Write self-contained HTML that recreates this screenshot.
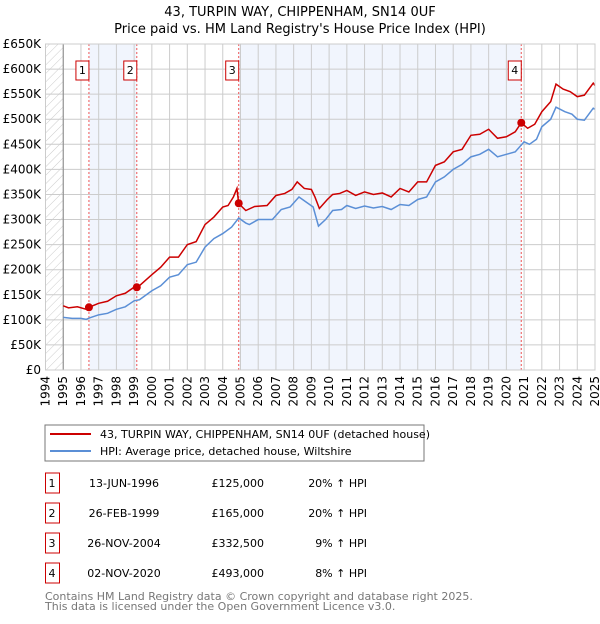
<!DOCTYPE html>
<html><head><meta charset="utf-8"><style>
body{margin:0;background:#fff;font-family:"DejaVu Sans","Liberation Sans",sans-serif;}
svg text{font-family:"DejaVu Sans","Liberation Sans",sans-serif;}
</style></head><body>
<svg id="c" width="600" height="620" xmlns="http://www.w3.org/2000/svg">
<defs><pattern id="hatch" width="6" height="6" patternUnits="userSpaceOnUse" patternTransform="rotate(45)"><line x1="0" y1="0" x2="0" y2="6" stroke="#ccc" stroke-width="1"/></pattern></defs>
<text x="300" y="16" text-anchor="middle" font-size="13">43, TURPIN WAY, CHIPPENHAM, SN14 0UF</text>
<text x="300" y="33" text-anchor="middle" font-size="13">Price paid vs. HM Land Registry's House Price Index (HPI)</text>
<g id="plot"></g>
<rect x="45" y="425" width="379" height="36" fill="#fff" stroke="#777"/>
<line x1="50" y1="434" x2="91" y2="434" stroke="#cc0000" stroke-width="2"/>
<text x="100" y="438" font-size="11">43, TURPIN WAY, CHIPPENHAM, SN14 0UF (detached house)</text>
<line x1="50" y1="451" x2="91" y2="451" stroke="#5b8fd6" stroke-width="2"/>
<text x="100" y="455" font-size="11">HPI: Average price, detached house, Wiltshire</text>
<g id="table" font-size="11"></g>
<text x="45" y="600" font-size="11" fill="#777">Contains HM Land Registry data © Crown copyright and database right 2025.</text>
<text x="45" y="610" font-size="11" fill="#777">This data is licensed under the Open Government Licence v3.0.</text>
</svg>
<script>
const yTicks=[0,50,100,150,200,250,300,350,400,450,500,550,600,650];
const yTickLabels=["£0","£50K","£100K","£150K","£200K","£250K","£300K","£350K","£400K","£450K","£500K","£550K","£600K","£650K"];
const years=[1994,1995,1996,1997,1998,1999,2000,2001,2002,2003,2004,2005,2006,2007,2008,2009,2010,2011,2012,2013,2014,2015,2016,2017,2018,2019,2020,2021,2022,2023,2024,2025];
const hpiT=[1995.0,1995.5,1996.0,1996.3,1996.5,1997.0,1997.5,1998.0,1998.5,1999.0,1999.3,2000.0,2000.5,2001.0,2001.5,2002.0,2002.5,2003.0,2003.5,2004.0,2004.5,2004.9,2005.3,2005.5,2006.0,2006.8,2007.3,2007.8,2008.3,2008.7,2009.1,2009.4,2009.8,2010.2,2010.7,2011.0,2011.5,2012.0,2012.5,2013.0,2013.5,2014.0,2014.5,2015.0,2015.5,2016.0,2016.5,2017.0,2017.5,2018.0,2018.5,2019.0,2019.5,2020.0,2020.5,2021.0,2021.3,2021.7,2022.0,2022.5,2022.8,2023.3,2023.7,2024.0,2024.4,2024.9,2025.0];
const hpiV=[105,103,103,101,104,110,113,121,126,138,140,158,168,185,190,210,215,245,262,272,285,303,293,290,300,300,320,325,345,335,325,287,300,318,320,328,322,327,323,326,320,330,328,340,345,375,385,400,410,425,430,440,425,430,435,455,450,460,485,500,524,515,510,500,498,522,520];
const priceT=[1995.0,1995.3,1995.8,1996.3,1996.45,1997.0,1997.5,1998.0,1998.5,1999.0,1999.3,2000.0,2000.5,2001.0,2001.5,2002.0,2002.5,2003.0,2003.5,2004.0,2004.3,2004.6,2004.8,2004.9,2005.3,2005.8,2006.5,2007.0,2007.5,2007.9,2008.2,2008.6,2009.0,2009.2,2009.45,2009.9,2010.2,2010.6,2011.0,2011.5,2012.0,2012.5,2013.0,2013.5,2014.0,2014.5,2015.0,2015.5,2016.0,2016.5,2017.0,2017.5,2018.0,2018.5,2019.0,2019.5,2020.0,2020.5,2020.84,2021.2,2021.6,2022.0,2022.5,2022.8,2023.2,2023.6,2024.0,2024.4,2024.9,2025.0];
const priceV=[128,124,126,121,125,133,137,148,153,165,168,190,205,225,225,250,256,290,305,325,328,345,362,332,318,326,328,348,352,360,375,362,360,345,322,340,350,352,358,348,355,350,353,345,362,355,375,375,408,415,435,440,468,470,480,462,465,475,493,482,490,515,535,570,560,555,545,548,572,567];
const saleLabels=["1","2","3","4"];
const saleT=[1996.45,1999.15,2004.9,2020.84];
const saleV=[125,165,332.5,493];
const saleDates=["13-JUN-1996","26-FEB-1999","26-NOV-2004","02-NOV-2020"];
const salePrices=["£125,000","£165,000","£332,500","£493,000"];
const salePct=["20% ↑ HPI","20% ↑ HPI","9% ↑ HPI","8% ↑ HPI"];

const NS="http://www.w3.org/2000/svg";
const X0=45.5,X1=595,Y0=370,Y1=44;
const xs=t=>X0+(t-1994)*(X1-X0)/31;
const ys=v=>Y0-(v/650)*(Y0-Y1);
const plot=document.getElementById('plot');
function mk(tag,attrs,parent){const e=document.createElementNS(NS,tag);for(const k in attrs)e.setAttribute(k,attrs[k]);(parent||plot).appendChild(e);return e;}

let bg=mk('rect',{x:X0,y:Y1,width:X1-X0,height:Y0-Y1,fill:'#fff'});


let h=mk('rect',{x:X0,y:Y1,width:xs(1995)-X0,height:Y0-Y1,fill:'url(#hatch)'});


[[0,1],[2,3]].forEach((p,i)=>{
  let b=mk('rect',{x:xs(saleT[p[0]]),y:Y1,width:xs(saleT[p[1]])-xs(saleT[p[0]]),height:Y0-Y1,fill:'#eef3fc',opacity:0.8});
  
  
});
years.forEach((yr,i)=>{
  let g=mk('line',{x1:xs(yr),x2:xs(yr),y1:Y1,y2:Y0,stroke:'#ccc','stroke-width':1});
  
  
  let t=mk('text',{x:0,y:0,'font-size':12,'text-anchor':'end',transform:`translate(${xs(yr)+4},${Y0+6}) rotate(-90)`});
  t.textContent=yr;
  
  
});
yTicks.forEach((v,i)=>{
  let g=mk('line',{x1:X0,x2:X1,y1:ys(v),y2:ys(v),stroke:'#ccc','stroke-width':1});
  
  
  let t=mk('text',{x:41,y:ys(v)+4,'font-size':12,'text-anchor':'end'});
  t.textContent=yTickLabels[i];
  
  
});
let ax=mk('line',{x1:xs(1995),x2:xs(1995),y1:Y1,y2:Y0,stroke:'#888'});


saleT.forEach((t,i)=>{
  let l=mk('line',{x1:xs(t),x2:xs(t),y1:Y1,y2:Y0,stroke:'#e55','stroke-width':1,'stroke-dasharray':'2,2'});
  
  
});
let hp=mk('polyline',{points:hpiT.map((t,i)=>xs(t)+','+ys(hpiV[i])).join(' '),fill:'none',stroke:'#5b8fd6','stroke-width':1.5});


let pp=mk('polyline',{points:priceT.map((t,i)=>xs(t)+','+ys(priceV[i])).join(' '),fill:'none',stroke:'#cc0000','stroke-width':1.5});


saleT.forEach((t,i)=>{
  let c=mk('circle',{cx:xs(t),cy:ys(saleV[i]),r:4,fill:'#cc0000'});
  
  
  let b=mk('rect',{x:xs(t)-13,y:61,width:13,height:19,fill:'#fff',stroke:'#cc0000'});
  
  
  let tx=mk('text',{x:xs(t)-6.5,y:74,'font-size':11,'text-anchor':'middle'});
  tx.textContent=saleLabels[i];
  
  
});
let fr=mk('rect',{x:X0,y:Y1,width:X1-X0,height:Y0-Y1,fill:'none',stroke:'#ccc'});



const tb=document.getElementById('table');
saleLabels.forEach((s,i)=>{
  const cy=483+i*30;
  let b=mk('rect',{x:45.5,y:cy-10,width:14,height:20,fill:'#fff',stroke:'#cc0000'},tb);
  
  
  const cells=[[52,'middle',s,'table-marker-label'],[124,'middle',saleDates[i],'sale-date'],[264,'end',salePrices[i],'sale-price'],[367,'end',salePct[i],'sale-hpi-diff']];
  cells.forEach(c=>{
    let t=mk('text',{x:c[0],y:cy+4,'text-anchor':c[1]},tb);
    t.textContent=c[2];
    
    
  });
});
</script>
</body></html>
